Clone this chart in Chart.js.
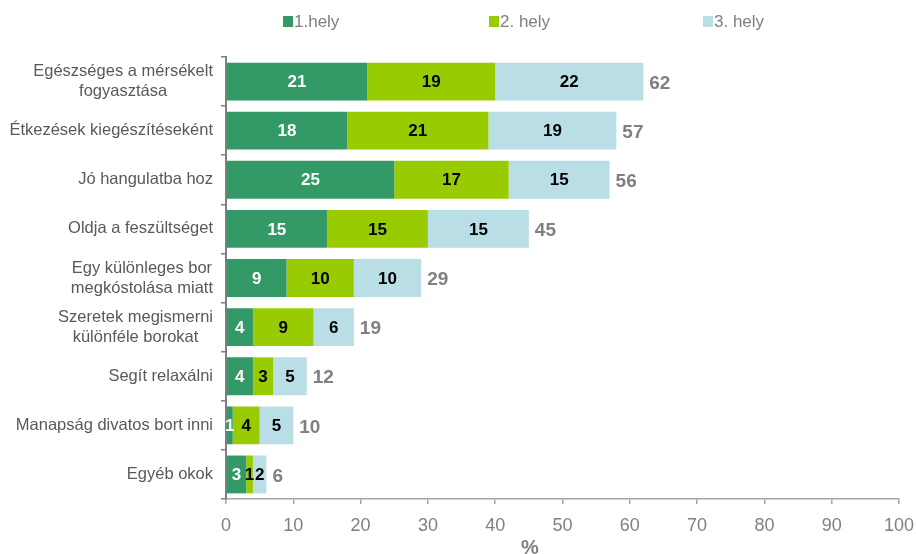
<!DOCTYPE html>
<html>
<head>
<meta charset="utf-8">
<script src="https://cdn.jsdelivr.net/npm/chart.js@4/dist/chart.umd.min.js"></script>
<style>
  html, body { margin: 0; padding: 0; background: #fff; }
  #wrap { width: 916px; height: 554px; position: relative; }
</style>
</head>
<body>
<div id="wrap"><canvas id="reasonsChart"></canvas></div>
<script>
// categories (two-line labels as arrays)
const categories = [
    ['Egészséges a mérsékelt', 'fogyasztása'],
    ['Étkezések kiegészítéseként'],
    ['Jó hangulatba hoz'],
    ['Oldja a feszültséget'],
    ['Egy különleges bor', 'megkóstolása miatt'],
    ['Szeretek megismerni', 'különféle borokat'],
    ['Segít relaxálni'],
    ['Manapság divatos bort inni'],
    ['Egyéb okok']
];

const seriesNames = ['1.hely', '2. hely', '3. hely'];
const place1 = [21, 18, 25, 15, 9, 4, 4, 1, 3];
const place2 = [19, 21, 17, 15, 10, 9, 3, 4, 1];
const place3 = [22, 19, 15, 15, 10, 6, 5, 5, 2];
const totals = [62, 57, 56, 45, 29, 19, 12, 10, 6]; // as printed in the chart

const xTicks = [0, 10, 20, 30, 40, 50, 60, 70, 80, 90, 100];
const axisTitle = '%';

const colors = ['#339966', '#99CC00', '#B9DEE6'];
const labelColors = ['#ffffff', '#000000', '#000000'];
const FONT = '"Liberation Sans", Arial, sans-serif';

// draws the value labels, totals, category labels, legend and the "%" title
const labelsPlugin = {
    id: 'labelsPlugin',
    afterDatasetsDraw(chart) {
        const ctx = chart.ctx;
        const area = chart.chartArea;
        ctx.save();

        // values inside the bars
        ctx.font = 'bold 17px ' + FONT;
        ctx.textAlign = 'center';
        ctx.textBaseline = 'middle';
        chart.data.datasets.forEach((ds, di) => {
            const meta = chart.getDatasetMeta(di);
            meta.data.forEach((bar, i) => {
                ctx.fillStyle = labelColors[di];
                ctx.fillText(String(ds.data[i]), (bar.x + bar.base) / 2, bar.y + 1);
            });
        });

        // totals after the last segment
        const last = chart.getDatasetMeta(chart.data.datasets.length - 1);
        ctx.font = 'bold 19px ' + FONT;
        ctx.textAlign = 'left';
        ctx.fillStyle = '#808080';
        last.data.forEach((bar, i) => {
            ctx.fillText(String(totals[i]), bar.x + 6, bar.y + 2);
        });

        // category labels: right aligned block, lines centred on each other
        const yScale = chart.scales.y;
        ctx.font = '16.5px ' + FONT;
        ctx.fillStyle = '#595959';
        ctx.textAlign = 'center';
        const right = area.left - 13;
        const lineH = 20;
        categories.forEach((lines, i) => {
            const cy = yScale.getPixelForValue(i);
            const maxW = Math.max(...lines.map(l => ctx.measureText(l).width));
            const cx = right - maxW / 2;
            const y0 = cy - (lines.length - 1) * lineH / 2;
            lines.forEach((l, k) => ctx.fillText(l, cx, y0 + k * lineH));
        });

        // legend
        const legendX = [283, 489, 703];
        ctx.font = '17px ' + FONT;
        ctx.textAlign = 'left';
        chart.data.datasets.forEach((ds, di) => {
            ctx.fillStyle = colors[di];
            ctx.fillRect(legendX[di], 16, 10, 11);
            ctx.fillStyle = '#7f7f7f';
            ctx.fillText(ds.label, legendX[di] + 11, 22);
        });

        // axis title
        ctx.font = 'bold 20px ' + FONT;
        ctx.textAlign = 'center';
        ctx.textBaseline = 'alphabetic';
        ctx.fillStyle = '#7f7f7f';
        ctx.fillText(axisTitle, 530, 554);

        ctx.restore();
    }
};

new Chart(document.getElementById('reasonsChart').getContext('2d'), {
    type: 'bar',
    data: {
        labels: categories.map(c => c.join(' ')),
        datasets: [
            { label: seriesNames[0], data: place1, backgroundColor: colors[0] },
            { label: seriesNames[1], data: place2, backgroundColor: colors[1] },
            { label: seriesNames[2], data: place3, backgroundColor: colors[2] }
        ]
    },
    options: {
        indexAxis: 'y',
        responsive: true,
        maintainAspectRatio: false,
        animation: false,
        categoryPercentage: 1,
        barPercentage: 0.77,
        layout: { padding: { top: 57, right: 17, left: 0, bottom: 0 } },
        plugins: {
            legend: { display: false },
            tooltip: { enabled: false }
        },
        scales: {
            x: {
                stacked: true,
                min: 0,
                max: 100,
                afterBuildTicks: s => { s.ticks = xTicks.map(v => ({ value: v })); },
                afterFit: s => { s.height = 55; s.paddingLeft = 0; s.paddingRight = 0; },
                grid: {
                    drawOnChartArea: false,
                    drawTicks: true,
                    tickLength: 5,
                    color: '#a6a6a6',
                    lineWidth: 1.5
                },
                border: { color: '#a6a6a6', width: 1.5 },
                ticks: {
                    color: '#808080',
                    font: { family: FONT, size: 18 },
                    padding: 11,
                    maxRotation: 0
                }
            },
            y: {
                stacked: true,
                afterFit: s => { s.width = 226; s.paddingTop = 0; s.paddingBottom = 0; },
                grid: {
                    offset: true,
                    drawOnChartArea: false,
                    drawTicks: true,
                    tickLength: 5,
                    color: '#808080',
                    lineWidth: 1.5
                },
                border: { color: '#808080', width: 2 },
                ticks: { display: false }
            }
        }
    },
    plugins: [labelsPlugin]
});
</script>
</body>
</html>
